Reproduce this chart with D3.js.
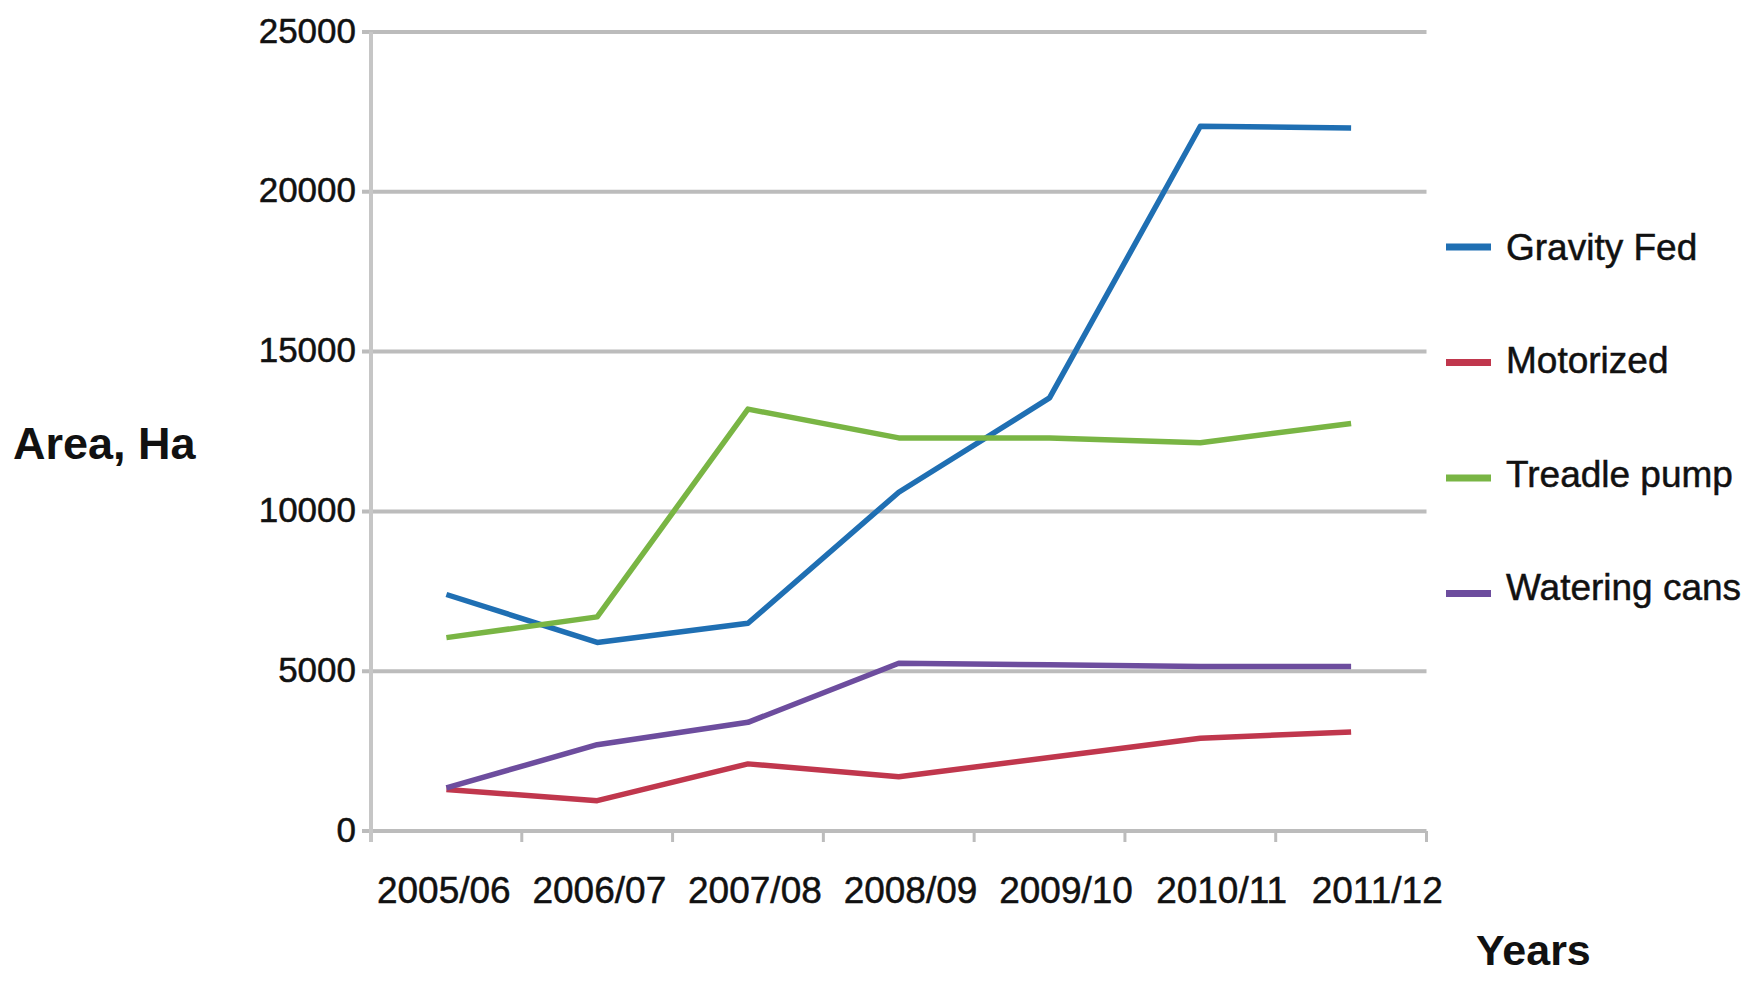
<!DOCTYPE html>
<html><head><meta charset="utf-8">
<script src="https://cdn.jsdelivr.net/npm/d3@7"></script>
<style>body{margin:0;background:#fff}svg{display:block}</style>
</head><body><svg id="c" width="1764" height="982"></svg>
<script>
// ---- data ----
const years = ["2005/06","2006/07","2007/08","2008/09","2009/10","2010/11","2011/12"];
const gravityFed   = [7400, 5900, 6500, 10600, 13550, 22050, 22000];
const motorized    = [1300,  950, 2100,  1700,  2300,  2900,  3100];
const treadlePump  = [6050, 6700, 13200, 12300, 12300, 12150, 12750];
const wateringCans = [1350, 2700, 3400,  5250,  5200,  5150,  5150];
const seriesNames  = ["Gravity Fed","Motorized","Treadle pump","Watering cans"];
const seriesColors = ["#1f6fb3","#c0374d","#79b544","#6d4d9e"];
const yTicks = [0, 5000, 10000, 15000, 20000, 25000];
const yTitle = "Area, Ha";
const xTitle = "Years";

const seriesValues = [gravityFed, motorized, treadlePump, wateringCans];
const series = seriesNames.map((n,i)=>({name:n, color:seriesColors[i], values:seriesValues[i]}));

// ---- layout ----
const L = 371, R = 1426.5, T = 32, B = 831;
const FONT = "'Liberation Sans', Arial, sans-serif";
const svg = d3.select("#c");

const x = d3.scaleBand().domain(years).range([L, R]);
const xLab = d3.scaleBand().domain(years).range([366, 1455]);
const y = d3.scaleLinear().domain([0, 25000]).range([B, T]);

// gridlines
svg.append("g").selectAll("line").data(yTicks).join("line")
  .attr("x1", L - 9).attr("x2", R)
  .attr("y1", d => y(d)).attr("y2", d => y(d))
  .attr("stroke", "#bcbcbc").attr("stroke-width", 4);

// y axis line
svg.append("line").attr("x1", L).attr("x2", L).attr("y1", y(25000)).attr("y2", B + 11)
  .attr("stroke", "#c6c6c6").attr("stroke-width", 4);

// x ticks at category boundaries
const bounds = years.map(d => x(d)).concat([x(years[years.length-1]) + x.bandwidth()]);
svg.append("g").selectAll("line").data(bounds.slice(1)).join("line")
  .attr("x1", d => d).attr("x2", d => d).attr("y1", B).attr("y2", B + 11)
  .attr("stroke", "#bcbcbc").attr("stroke-width", 3);

// y tick labels
svg.append("g").selectAll("text").data(yTicks).join("text")
  .attr("x", 356).attr("y", d => y(d)).attr("dy", "0.3em")
  .attr("text-anchor", "end").attr("font-family", FONT).attr("font-size", 35)
  .attr("fill", "#111").attr("stroke", "#111").attr("stroke-width", 0.5).text(d => d);

// x tick labels
svg.append("g").selectAll("text").data(years).join("text")
  .attr("x", d => xLab(d) + xLab.bandwidth()/2).attr("y", 903)
  .attr("text-anchor", "middle").attr("font-family", FONT).attr("font-size", 37)
  .attr("fill", "#111").attr("stroke", "#111").attr("stroke-width", 0.5).text(d => d);

// lines
const line = d3.line().x((d,i) => x(years[i]) + x.bandwidth()/2).y(d => y(d));
svg.append("g").selectAll("path").data(series).join("path")
  .attr("d", d => line(d.values)).attr("fill", "none")
  .attr("stroke", d => d.color).attr("stroke-width", 5.5)
  .attr("stroke-linejoin", "round");

// legend
const lg = svg.append("g").selectAll("g").data(series).join("g")
  .attr("transform", (d,i) => `translate(0,${247 + i*115.5})`);
lg.append("line").attr("x1", 1446).attr("x2", 1491).attr("y1", 0).attr("y2", 0)
  .attr("stroke", d => d.color).attr("stroke-width", 7);
lg.append("text").attr("x", 1506).attr("y", 0).attr("dy", (d,i) => (0.35 - i*0.06) + "em")
  .attr("font-family", FONT).attr("font-size", 37).attr("fill", "#111")
  .attr("stroke", "#111").attr("stroke-width", 0.5)
  .text(d => d.name);

// axis titles
svg.append("text").attr("x", 13).attr("y", 459).attr("font-family", FONT)
  .attr("font-weight", "bold").attr("font-size", 45).attr("fill", "#111").text(yTitle);
svg.append("text").attr("x", 1476).attr("y", 965).attr("font-family", FONT)
  .attr("font-weight", "bold").attr("font-size", 43).attr("fill", "#111").text(xTitle);
</script></body></html>
